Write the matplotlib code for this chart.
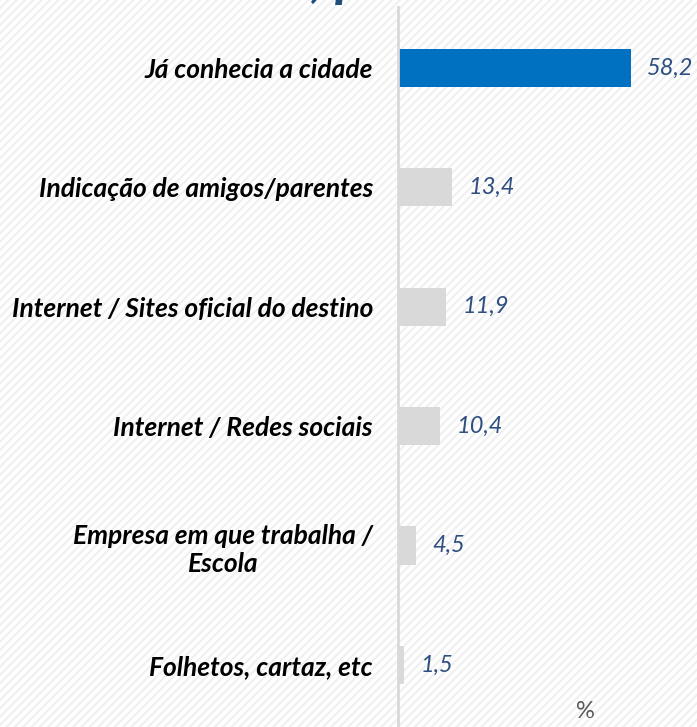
import matplotlib
matplotlib.use('Agg')
import matplotlib.pyplot as plt
from matplotlib.patches import Rectangle

# categorias e valores (%)
categorias = [
    'Já conhecia a cidade',
    'Indicação de amigos/parentes',
    'Internet / Sites oficial do destino',
    'Internet / Redes sociais',
    'Empresa em que trabalha /\nEscola',
    'Folhetos, cartaz, etc',
]
valores = [58.2, 13.4, 11.9, 10.4, 4.5, 1.5]
cores = ['#0070C0', '#D9D9D9', '#D9D9D9', '#D9D9D9', '#D9D9D9', '#D9D9D9']

plt.rcParams['font.family'] = ['Lato', 'DejaVu Sans']
plt.rcParams['hatch.linewidth'] = 1.4

fig = plt.figure(figsize=(6.97, 7.27), dpi=100)

# fundo listrado diagonal
fundo = Rectangle((0, 0), 1, 1, transform=fig.transFigure, facecolor='white',
                  edgecolor='#EFEFEF', hatch='////', linewidth=0, zorder=-10)
fig.add_artist(fundo)

ax = fig.add_axes([398 / 697, 0, 299 / 697, 720 / 727])
ax.patch.set_alpha(0)

pos = list(range(len(categorias)))
ax.barh(pos, valores, height=0.32, color=cores, zorder=2)

for p, v in zip(pos, valores):
    ax.annotate(f'{v:.1f}'.replace('.', ','), (v, p), xytext=(12, 0),
                textcoords='offset points', va='center', ha='left',
                fontsize=17, style='italic', color='#2E4F7F')

ax.set_xlim(0, 74.75)
ax.set_ylim(5.52, -0.51)
ax.set_yticks(pos)
ax.set_yticklabels(categorias, fontsize=19, fontweight='bold', style='italic',
                   ha='right', multialignment='center', linespacing=1.2)
ax.tick_params(axis='y', length=0, pad=18)
ax.set_xticks([])
for s in ['top', 'right', 'bottom']:
    ax.spines[s].set_visible(False)
ax.spines['left'].set_color('#D9D9D9')
ax.spines['left'].set_linewidth(2)

# título cortado no topo
fig.text(310 / 697, 1.0 + 4 / 727, ', p', fontsize=40, fontweight='bold',
         style='italic', color='#1F4E79', ha='left', va='baseline')

fig.text(585 / 697, 1 - 712 / 727, '%', fontsize=17, color='#595959',
         ha='center', va='center')

fig.savefig('out.png', dpi=100)
